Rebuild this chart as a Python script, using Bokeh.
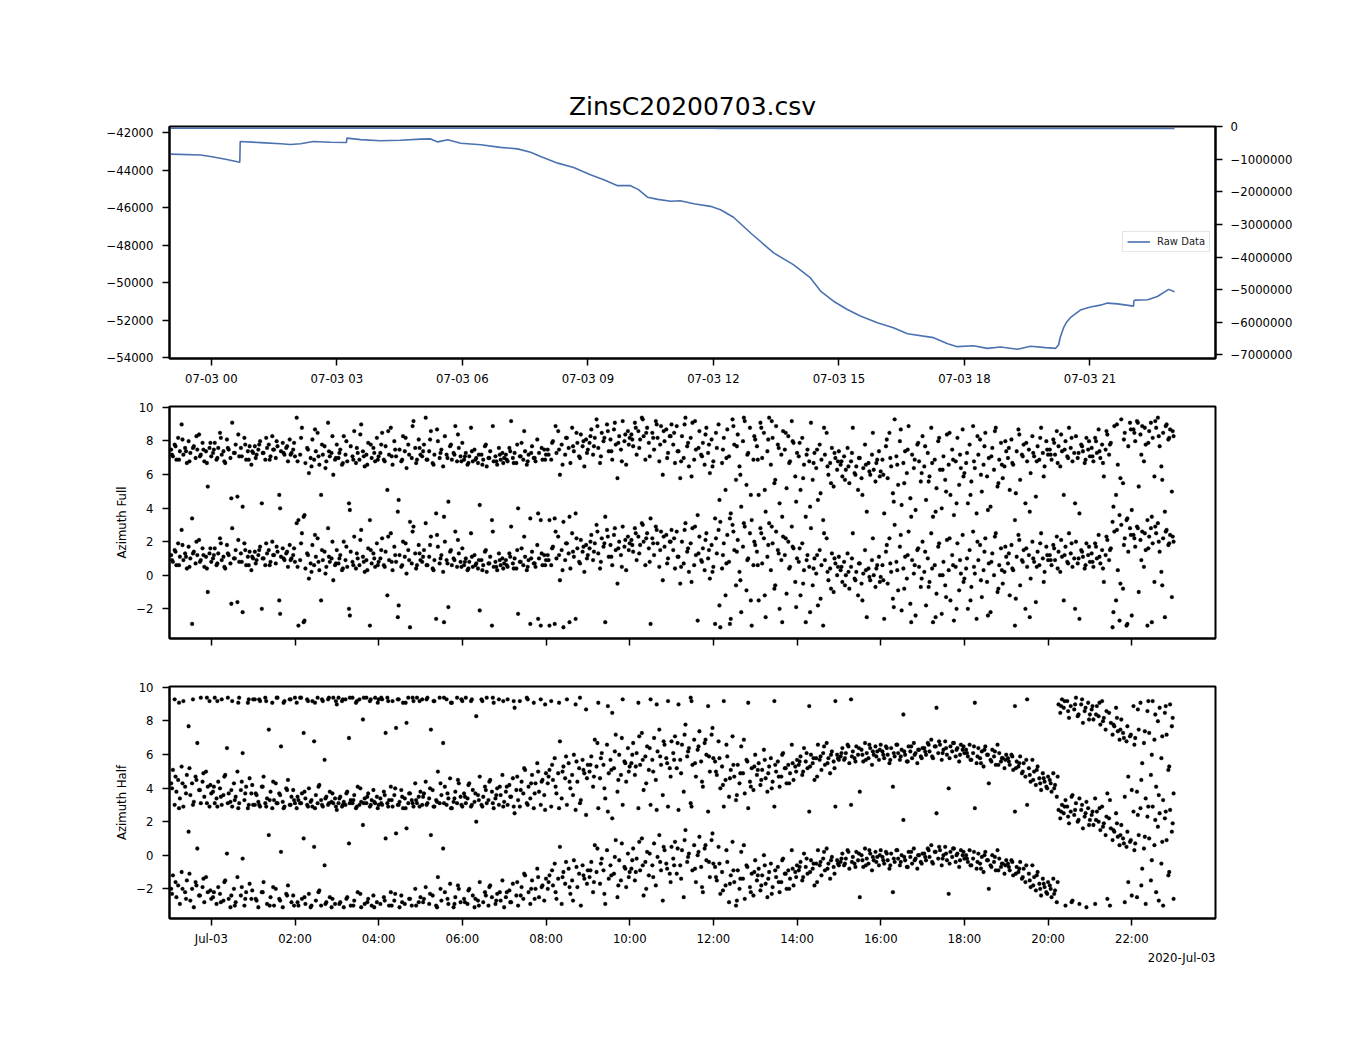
import numpy as np
import pandas as pd
from bokeh.plotting import figure
from bokeh.models import (Range1d, LinearAxis, FixedTicker, CustomJSTickFormatter,
                          Legend, LegendItem, Title, ColumnDataSource)
from bokeh.layouts import column
from bokeh.embed import file_html
from bokeh.resources import INLINE

# ---------------- data ----------------
TITLE = "ZinsC20200703.csv"
DATE_LABEL = "2020-Jul-03"

# raw data: hours relative to 2020-07-03 00:00
raw_hours = [-0.97, -0.26, -0.02, 0.34, 0.68, 0.69, 1.18, 1.66, 1.89, 2.13, 2.44, 2.85,
             3.23, 3.24, 3.57, 4.04, 4.52, 5.00, 5.24, 5.41, 5.65, 5.96, 6.44, 6.91,
             7.32, 7.63, 7.87, 8.28, 8.66, 9.06, 9.38, 9.71, 10.02, 10.21, 10.43, 10.67,
             10.98, 11.21, 11.53, 11.93, 12.17, 12.48, 12.89, 13.30, 13.44, 13.91, 14.32,
             14.56, 14.87, 15.20, 15.51, 15.92, 16.30, 16.64, 17.26, 17.60, 17.83, 18.21,
             18.55, 18.86, 19.27, 19.58, 19.94, 20.18, 20.25, 20.29, 20.37, 20.44, 20.53,
             20.77, 21.01, 21.25, 21.42, 21.66, 22.04, 22.05, 22.09, 22.38, 22.61, 22.88, 23.02]
raw_values = [-43150, -43200, -43280, -43420, -43580, -42480, -42540, -42600, -42640, -42600,
              -42480, -42520, -42530, -42300, -42380, -42440, -42410, -42350, -42340, -42500,
              -42390, -42570, -42650, -42790, -42870, -43050, -43275, -43630, -43860, -44250,
              -44510, -44830, -44830, -45040, -45450, -45560, -45660, -45630, -45790, -45930,
              -46110, -46510, -47350, -48140, -48410, -49030, -49740, -50440, -50980, -51420,
              -51770, -52130, -52390, -52710, -52920, -53240, -53400, -53350, -53490, -53420,
              -53540, -53380, -53450, -53490, -53300, -52900, -52390, -52100, -51860, -51450,
              -51290, -51190, -51080, -51120, -51240, -50960, -50920, -50900, -50730, -50350, -50480]

# azimuth samples (radians, -pi..pi)
# series A: one every 2.5 minutes from 2020-07-02 23:02:24
# series B: one every 5 minutes from 2020-07-02 23:03:39
SAMPLE_START_A = "2020-07-02 23:02:24"
SAMPLE_STEP_A = 150
SAMPLE_START_B = "2020-07-02 23:03:39"
SAMPLE_STEP_B = 300

azimuth_full_a = [
    1.2, 0.8, 1.5, 0.6, 1.9, 1.1, 2.7, 0.9, 1.3, 0.4, 1.7, 1.0, -2.9, 1.4, 0.7, 1.2, 2.1, 0.9, 1.6, 0.5, 1.1, -1.0, 1.3, 0.8,
    1.0, 1.6, 0.6, 1.3, 2.2, 0.9, 1.1, 0.4, 1.8, 1.2, 0.7, 2.8, 1.0, 1.5, -1.6, 0.8, 1.3, -2.2, 1.9, 0.6, 1.1, 1.4, 0.3, 1.0,
    1.4, 0.9, 1.2, 1.7, -2.0, 1.0, 0.6, 1.3, 1.5, 0.8, 2.0, 1.2, 0.7, 1.4, -1.5, 1.1, 1.6, 0.9, 1.3, 0.5, 1.8, 1.0, 1.2, 0.8,
    3.1, -3.0, 0.9, 2.5, -2.8, 0.4, 1.3, -0.2, 0.7, 1.8, 0.6, 1.1, 2.2, 0.3, -1.5, 0.9, 1.4, 0.5, 2.8, 0.8, 1.0, -0.3, 0.6, 1.5,
    0.7, 1.2, 0.3, 2.0, 0.9, 0.5, -2.0, 1.4, 0.8, 2.3, 0.4, 1.0, 0.6, 2.7, 1.1, 0.2, 0.9, 1.6, -3.0, 0.7, 1.3, 0.5, 1.9, 0.8,
    1.0, 2.2, 0.6, 1.4, -1.2, 0.9, 2.5, 0.3, 1.7, 0.8, -2.5, 1.2, 0.5, 2.0, 1.1, 0.1, 1.5, -3.1, 0.7, 2.9, 1.3, 0.6, 1.8, 0.9,
    0.8, 1.5, 3.1, 0.6, 1.1, 2.3, 0.4, 0.9, -2.6, 1.7, 0.7, 1.2, 0.2, 2.0, 0.9, -1.9, 1.4, 0.6, 1.0, 2.6, 0.5, 1.3, 0.8, 1.6,
    0.6, 1.0, 0.3, 0.8, 2.5, 0.5, 1.2, 0.7, 0.4, -2.1, 0.9, 0.6, 1.4, 0.2, 0.7, 1.1, -3.0, 0.5, 0.8, 0.3, 1.3, 0.6, 1.0, 0.7,
    0.9, 0.5, 1.3, 2.9, 0.7, 1.0, 0.4, -2.3, 0.8, 1.6, 0.6, 1.1, 0.3, 0.9, -2.9, 1.4, 0.7, 0.5, 1.8, 1.0, -3.0, 0.6, 1.2, 0.9,
    1.2, -3.0, 0.6, 1.7, -2.9, 1.0, 2.3, -0.3, 1.5, -3.1, 0.9, 1.9, 1.3, 0.4, 2.5, 1.1, -2.6, 1.6, 0.8, 2.1, 1.4, 0.2, 1.8, 1.2,
    1.6, 2.4, 0.9, 1.9, 3.0, 1.3, 0.4, 2.2, 1.7, -2.8, 2.7, 1.1, 1.8, 0.6, 2.4, 1.5, -0.5, 2.0, 1.2, 2.9, 1.7, 0.3, 2.3, 1.9,
    2.1, 1.4, 2.8, 0.9, 2.3, 1.8, 3.1, 2.0, 0.6, 2.5, 1.6, -2.9, 2.2, 1.2, 2.9, 1.9, 0.5, 2.6, -0.3, 1.7, 2.4, 1.0, 2.0, 2.7,
    1.5, 0.4, 2.6, 1.1, -0.5, 2.0, 0.7, 3.1, 1.4, 0.2, 1.9, 2.8, 0.6, 1.2, -2.7, 2.3, 0.9, 1.6, 0.3, 2.5, 1.0, -0.2, 1.8, 0.5,
    -2.9, 1.3, 2.7, -3.1, 0.4, 1.9, -1.2, 2.4, 0.8, -2.6, 3.0, 1.5, -0.6, 2.1, 0.2, -2.2, 1.7, 2.9, -0.9, 1.0, 2.5, -3.0, 0.6, 1.8,
    1.4, -1.5, 2.8, 0.7, 2.2, -2.5, 1.1, 3.1, 0.3, 1.9, -0.8, 2.6, 1.5, -2.0, 0.9, 2.3, 1.2, -1.1, 2.0, 0.5, 2.9, 1.6, -0.4, 1.0,
    0.8, -1.2, 1.9, 0.3, -2.8, 1.2, 0.5, 2.8, -0.6, 1.0, 0.1, -1.8, 1.5, 0.6, -3.0, 0.9, 2.2, -0.3, 0.4, 1.3, -1.0, 0.7, 0.0, 1.1,
    0.3, -0.4, 0.8, 0.0, 1.3, -0.8, 0.5, 2.5, -0.2, 0.2, -1.2, 0.7, -0.5, 0.1, 1.5, -2.5, 0.4, -0.3, 0.9, 0.0, -0.7, 0.6, 1.1, -0.1,
    0.6, -2.6, 1.4, -0.5, 2.2, 0.2, -1.4, 3.0, 0.8, -0.9, 1.7, -2.1, 0.4, 1.1, -0.2, 2.6, -1.7, 0.9, 0.1, -2.4, 1.5, 0.5, -0.7, 2.0,
    0.2, -1.8, 1.0, -0.4, 2.5, -2.8, 0.6, -1.1, 1.7, 0.0, -2.3, 0.8, -0.6, 2.1, 0.3, -1.5, 1.2, -2.7, 0.5, 1.9, -0.9, 0.1, 2.4, -0.2,
    0.4, -2.0, 1.5, -0.7, 2.6, 0.1, -2.6, 0.9, 1.8, -1.3, 0.3, 2.2, -0.4, 0.7, -2.2, 1.3, 0.0, 2.5, -1.0, 0.6, 1.6, -0.5, 0.2, 1.1,
    0.7, -1.2, 1.8, 0.3, -3.0, 1.1, 2.4, -0.6, 0.9, 1.5, -2.0, 0.5, 1.2, -0.2, 2.0, 0.8, -1.6, 1.4, 0.6, 2.5, 1.0, 0.2, 1.7, 0.9,
    1.2, 0.6, 1.8, 0.9, 2.3, 1.4, 0.2, 1.1, -1.5, 1.7, 0.8, 2.5, 1.3, 0.5, 1.0, 2.0, 0.7, -2.6, 1.5, 1.1, 0.4, 1.9, 1.2, 0.8,
    1.3, 0.5, 1.9, 1.0, 2.4, 0.7, 1.5, -0.4, 1.2, 2.1, 0.9, 1.6, -3.1, 2.6, -1.5, 0.3, -2.7, 3.0, -0.8, 2.2, -3.0, 1.4, 2.8, -2.4,
    2.4, 1.7, 2.9, -1.0, 2.1, 2.6, 0.5, 1.5, -3.0, 2.3, 2.8, 1.9, -0.4, 2.5, 3.1, 1.4, 0.2, 2.2, -2.5, 2.7, 1.8, 2.4, -1.3, 2.0,
]

azimuth_full_b = [
    0.9, 1.4, 0.6, 1.8, 1.1, 0.5, 1.3, 2.0, 0.8, 1.2, 0.4, 1.6,
    1.2, 0.7, 1.9, 0.5, 1.3, -1.7, 1.0, 2.1, 0.8, 1.5, 0.6, 1.1,
    0.7, 1.5, 1.0, 1.9, 0.6, 1.2, 1.7, -2.3, 1.0, 1.4, 0.9, 1.6,
    0.5, 1.9, -2.7, 1.2, 0.2, 2.4, 0.8, 1.5, 0.1, 1.1, 2.0, 0.7,
    1.0, 0.4, 1.7, -2.4, 0.6, 1.3, 2.1, 0.8, 0.3, 1.5, 1.0, 0.6,
    1.5, 0.5, 2.3, 0.8, 1.2, -1.8, 0.6, 1.9, 0.9, 2.6, 0.4, 1.3,
    1.1, 0.6, 1.8, 0.3, 2.4, 1.0, -2.8, 0.7, 1.5, 0.9, 2.1, 0.5,
    0.8, 0.4, 1.1, 0.6, 0.9, 0.3, 1.5, 0.7, 2.6, 0.5, 0.9, 0.4,
    0.6, 1.1, 0.4, 1.5, 0.8, 2.3, 0.5, 1.0, 0.7, -2.6, 1.3, 0.6,
    0.9, 1.6, 2.6, 1.2, 0.3, 1.9, -2.8, 1.4, 2.2, 0.7, 1.7, 1.0,
    2.0, 1.4, 2.6, 0.8, 1.9, 2.3, 1.1, 2.8, 1.6, 0.5, 2.1, 1.5,
    1.8, 2.5, 1.3, 3.0, 2.2, 0.8, 1.9, 2.7, 1.5, 2.3, 0.7, 2.0,
    2.2, 1.1, 0.5, 2.7, 1.6, -0.4, 2.9, 1.3, 0.8, 2.1, 1.5, 0.2,
    2.2, -1.8, 1.2, 0.7, -2.9, 2.6, 1.4, -0.3, 3.1, 0.9, -1.5, 2.0,
    0.6, 2.5, -1.2, 1.8, 2.9, -0.6, 1.3, -2.8, 2.2, 0.4, 1.7, -1.9,
    1.6, -0.5, 0.9, -2.2, 0.4, 1.2, -1.4, 2.5, 0.2, -0.8, 1.0, 0.5,
    0.5, -0.6, 0.2, 1.0, -0.3, 0.7, -1.5, 0.3, -0.1, 2.2, 0.4, -0.4,
    -0.3, 1.8, 0.7, -1.9, 0.3, 2.4, -0.8, 1.2, -2.8, 0.6, 1.6, -0.2,
    1.4, -0.7, 0.4, -2.5, 1.9, 0.0, -1.3, 2.2, 0.6, -2.0, 0.9, -0.4,
    1.0, -1.5, 0.5, 2.0, -0.3, 1.4, -2.4, 0.8, 2.3, -0.8, 0.3, 1.7,
    1.3, 0.4, -1.4, 2.1, 0.8, 1.6, -2.5, 1.0, 0.5, 1.9, -0.4, 1.2,
    0.9, 1.6, 0.4, 2.1, 1.2, 0.7, 1.9, -2.0, 1.0, 1.4, 0.6, 1.7,
    0.8, 1.7, 1.1, 0.4, 2.3, 1.5, -2.2, 2.7, -0.5, 1.8, -2.9, 2.4,
    2.2, 2.8, 0.9, 2.5, 1.6, -2.8, 2.9, 2.0, -0.6, 2.6, 1.9, 2.3,
]

azimuth_half_a = [
    -2.0, -1.2, 3.0, -2.5, -1.8, -2.9, -1.0, 2.9, -2.2, -1.5, 1.4, -2.7, -2.0, -3.1, -1.6, 0.4, -2.4, 3.1, -1.9, -2.8, -1.3, -2.2, 2.9, -2.6,
    -2.5, 3.1, -2.9, -1.9, -2.3, 3.0, -2.7, -1.5, 0.1, -2.6, -3.1, 2.9, -2.0, -2.8, -1.3, 3.1, -2.4, -0.2, -3.0, -2.2, 2.8, -1.7, -2.6, 3.0,
    3.0, -2.7, -3.1, 2.9, -2.2, -1.6, 3.1, -2.9, 1.2, -2.5, 2.8, -3.0, -2.0, 3.1, -2.6, 0.2, -3.1, 2.9, -2.3, -1.8, 3.0, -2.8, -2.4, 3.1,
    2.8, -3.0, 3.1, -2.6, 1.0, -2.9, 3.0, -2.3, -3.1, 2.9, 0.5, -2.7, 3.1, -2.1, -3.0, 2.9, -0.6, -2.8, 3.0, -2.5, -3.1, 3.1, -2.9, 2.7,
    3.1, -2.8, 2.9, -3.1, 3.0, -2.5, 0.7, -3.0, 3.1, -2.7, 2.8, -2.2, 3.0, -3.1, 1.8, -2.9, 3.1, -2.6, 2.9, -3.0, -2.4, 3.1, -2.8, 3.0,
    -2.9, 3.0, -2.5, 1.0, 3.1, -3.0, -2.2, 2.9, -2.7, 1.3, 3.0, -3.1, -2.4, 2.8, -2.9, 1.6, 3.1, -2.6, -3.0, 2.9, -2.0, 3.1, -2.8, -2.5,
    3.0, -2.6, -1.9, 3.1, -2.9, 1.2, -2.4, 2.9, -3.0, -1.3, 3.1, -2.7, 0.4, -2.2, 3.0, -2.9, -1.7, 2.8, -3.1, -2.5, 3.1, -2.0, -2.8, 2.9,
    -2.6, 3.1, -2.9, -2.0, 2.9, -2.4, -3.1, 2.0, -2.7, -1.6, 3.0, -2.8, -2.2, 3.1, -3.0, -1.8, -2.5, 2.8, -2.9, -2.3, 3.0, -2.7, -1.5, -3.1,
    -2.5, 3.0, -2.1, -2.8, -1.7, 2.5, -2.4, -3.0, 2.9, -1.9, -2.6, -1.2, 3.1, -2.2, -2.9, -1.5, 2.8, -2.0, -0.8, -2.5, 3.0, -1.8, -2.7, -1.4,
    -2.0, -1.2, 2.9, -1.8, -0.5, -2.6, -1.4, 0.5, -2.9, -1.0, -1.7, 3.0, -0.8, -2.3, -1.5, -0.3, 2.7, -1.9, -1.1, -3.0, -0.6, -1.4, 2.4, -0.9,
    -1.3, -0.4, -2.2, 0.6, -1.0, 2.8, -1.7, -0.2, -0.9, -2.9, 0.3, -1.4, -0.6, 2.2, -1.1, 0.9, -2.5, -0.3, -1.5, 3.0, -0.7, -1.9, 0.1, -1.0,
    -0.8, 0.4, -1.5, -0.2, 2.8, -0.9, 1.0, -2.4, -0.4, 0.2, -1.2, 3.0, -0.6, 0.7, -1.8, -0.1, 1.2, -0.9, -2.7, 0.3, -0.5, 2.9, -1.1, 0.5,
    -0.2, 0.8, -1.1, 2.7, -0.6, 0.3, -2.5, 1.5, -0.4, 0.1, 3.1, -0.9, 0.6, -1.6, 0.0, 1.1, -0.7, -2.2, 0.4, -0.3, 2.6, -1.3, 0.9, -0.5,
    -0.7, -1.5, 0.5, -2.3, -1.0, 2.9, -1.8, -0.4, -2.8, -1.2, 0.8, -1.6, -3.0, -0.9, -2.0, 0.2, -1.4, -2.6, -0.6, 2.8, -1.9, -1.1, -2.4, -0.3,
    -1.5, -0.8, -2.1, -1.2, 0.0, -1.7, -2.5, -1.0, -0.5, -1.9, 2.9, -1.3, -0.7, -2.2, -1.6, -0.2, -1.1, -2.0, -0.9, -1.4, 0.3, -1.8, -1.0, -0.6,
    -0.9, -0.4, -1.5, 0.1, -0.7, -1.1, 2.6, -0.3, -0.8, -1.8, -0.5, 0.3, -0.6, -1.2, -0.2, -0.9, 0.4, -0.5, -1.4, -0.1, -0.7, 2.9, -0.3, -0.6,
    -0.4, 0.1, -0.6, -0.2, 0.3, -0.8, 3.0, -0.1, -0.5, 0.2, -0.3, -2.5, 0.0, -0.7, 0.4, -0.2, -0.5, 0.1, -0.9, -0.3, 0.2, -0.1, -0.6, 0.3,
    -0.1, -0.5, 0.2, -0.3, -0.8, 0.1, -2.2, -0.4, 0.3, -0.2, -0.6, 0.0, 2.1, -0.3, -0.7, 0.2, -0.1, -0.5, 0.4, -0.2, -0.8, 0.0, -0.4, 0.1,
    0.1, -0.3, 0.4, -0.1, 0.6, -0.5, 0.2, 2.5, -0.2, 0.3, -0.6, 0.0, 0.5, -0.3, -2.3, 0.2, -0.1, 0.4, -0.4, 0.1, -0.7, 0.3, 0.0, -0.2,
    0.0, -0.4, 0.3, -0.6, -0.2, 2.8, -0.8, 0.1, -0.5, -0.1, -1.0, 0.2, -0.3, -2.0, -0.6, 0.0, -0.4, -0.9, 0.3, -0.2, -0.7, -0.5, -1.1, -0.3,
    -0.5, -0.9, -0.3, -1.2, 2.6, -0.7, -1.0, -0.4, -1.4, -0.8, -1.6, 3.0, -1.1, -1.9, -0.6, -1.3, -2.1, -1.0, -1.7, -2.4, -1.4, -1.9, -2.2, -1.6,
    -1.8, -2.5, -1.4, -2.1, -2.8, 2.7, 2.2, 3.0, 2.5, -3.0, 2.9, 1.9, 2.6, -2.7, 2.4, 3.1, 2.0, -2.9, 2.7, 1.6, 2.3, -3.1, 2.8, 2.1,
    2.4, 1.8, -2.9, 2.6, 2.0, 1.5, 2.9, 1.9, 1.2, -2.6, 2.2, 1.6, 0.9, 1.4, 2.5, 1.1, 0.6, 1.8, 1.0, -2.8, 0.5, -1.6, 0.8, -2.4,
    2.6, 0.7, -2.5, 1.2, 2.8, -0.8, 0.4, -2.9, 2.3, 1.0, -1.5, 2.9, 0.6, -2.2, 1.7, 2.5, -0.5, -3.0, 2.2, 0.9, -1.2, 2.7, 1.4, -2.6,
]

azimuth_half_b = [
    -2.3, -1.6, 2.8, -2.0, -2.6, -1.1, 3.0, -1.8, -2.4, -1.4, 3.1, -2.1,
    -2.2, 2.9, -2.8, -1.6, 3.1, -2.4, -3.0, 2.8, -1.9, -2.6, 3.0, -2.1,
    -2.6, 3.0, -2.2, 2.9, -3.0, -1.9, 3.1, -2.7, 2.8, -2.4, 3.0, -3.0,
    -2.8, 3.1, -2.5, 2.9, -3.0, 2.8, -2.2, 3.0, -2.9, 3.1, -2.6, 2.9,
    -2.9, 3.0, -2.6, 3.1, -3.0, 2.9, -2.3, 3.1, -2.8, 3.0, -3.1, 2.8,
    3.1, -2.7, 2.9, -3.0, -2.3, 3.0, -2.8, 2.8, -2.6, 3.1, -3.0, 2.9,
    -2.8, 3.0, -2.3, 2.9, -3.1, -2.0, 3.1, -2.6, 2.8, -2.9, -1.8, 3.0,
    -2.8, -2.1, 3.0, -2.6, -3.0, 2.9, -2.4, -1.9, 3.1, -2.7, -2.2, 2.9,
    -2.2, -2.8, 2.9, -1.6, -2.4, -1.1, 3.0, -2.0, -2.6, -1.3, -1.9, 2.7,
    -1.6, -0.9, -2.2, 2.8, -1.3, -0.4, -1.9, -2.7, -0.7, 3.1, -1.2, -1.7,
    -0.9, -1.6, 0.4, -0.5, -2.3, 2.6, -1.2, -0.1, -1.8, 0.7, -0.8, -1.3,
    -0.3, -1.0, 0.8, -0.6, -2.0, 0.1, -1.3, 2.7, -0.4, 0.5, -0.8, -1.6,
    -0.6, 0.4, -1.4, 0.9, -0.1, 2.9, -0.8, 0.2, -1.9, 0.6, -0.4, 1.3,
    -1.3, -0.5, -2.1, 0.3, -1.7, -0.9, -2.7, -1.4, 0.6, -0.7, -2.2, -1.0,
    -1.2, -1.8, -0.6, -1.4, -2.3, -0.9, -1.6, -0.3, -1.1, -2.0, -0.8, -1.3,
    -0.7, -1.3, -0.2, -1.0, -0.5, -1.6, -0.4, 0.2, -0.8, -0.3, -1.1, -0.5,
    -0.2, -0.5, 0.2, -0.4, -0.7, 0.1, -0.3, -0.6, 0.3, -0.1, -0.4, 0.0,
    -0.3, 0.1, -0.6, -0.2, 0.3, -0.4, -0.1, -0.7, 0.2, -0.3, 0.0, -0.5,
    -0.1, 0.3, -0.4, 0.2, 0.5, -0.2, 0.1, -0.5, 0.4, 0.0, -0.3, 0.2,
    -0.2, -0.6, 0.2, -0.4, -0.8, 0.0, -0.3, -0.7, -0.1, -0.9, -0.5, -0.6,
    -0.7, -0.4, -1.1, -0.8, -1.3, -0.6, -1.5, -1.8, -1.2, -2.0, -1.7, -2.3,
    -2.0, -2.3, -1.6, 2.6, 2.9, 2.3, -2.8, 2.7, 2.1, 3.0, 2.5, 1.8,
    2.6, 2.1, 2.8, 1.7, 2.3, -3.0, 1.5, 1.9, 1.2, 0.7, 1.4, 0.9,
    0.3, 2.4, -1.8, 1.1, 2.9, -0.3, 2.1, -2.7, 0.8, 2.6, -1.0, 1.9,
]

left_ticks = [-54000, -52000, -50000, -48000, -46000, -44000, -42000]
right_ticks = [0, -1000000, -2000000, -3000000, -4000000, -5000000, -6000000, -7000000]
azimuth_ticks = [-2, 0, 2, 4, 6, 8, 10]
top_x_ticks = [0, 3, 6, 9, 12, 15, 18, 21]
bottom_x_ticks = [0, 2, 4, 6, 8, 10, 12, 14, 16, 18, 20, 22]

# ---------------- helpers ----------------
FONT = "DejaVu Sans"
LINE_COLOR = "#4c72b0"
W = 1334
FRAME_LEFT = 169
FRAME_W = 1046
MIDNIGHT = pd.Timestamp("2020-07-03 00:00:00")


def sample_hours(start, step_s, n):
    t = pd.Timestamp(start) + pd.to_timedelta(np.arange(n) * step_s, unit="s")
    return ((t - MIDNIGHT) / pd.Timedelta(hours=1)).to_numpy()


minus_fmt = CustomJSTickFormatter(code="""
const v = Math.round(tick);
return (v < 0 ? '\u2212' : '') + Math.abs(v).toString();
""")
top_x_fmt = CustomJSTickFormatter(code="""
const h = Math.round(tick);
return '07-03 ' + (h < 10 ? '0' : '') + h;
""")
bottom_x_fmt = CustomJSTickFormatter(code="""
const h = Math.round(tick);
if (h == 0) { return 'Jul-03'; }
return (h < 10 ? '0' : '') + h + ':00';
""")
blank_fmt = CustomJSTickFormatter(code="return '';")


def make_fig(height, top, bottom, y0, y1):
    p = figure(width=W, height=height, x_range=Range1d(-1, 24), y_range=Range1d(y0, y1),
               output_backend="svg", toolbar_location=None, tools="",
               min_border_left=FRAME_LEFT, min_border_right=W - FRAME_LEFT - FRAME_W,
               min_border_top=top, min_border_bottom=bottom)
    p.xgrid.visible = False
    p.ygrid.visible = False
    p.outline_line_color = "black"
    p.outline_line_width = 2
    p.outline_line_alpha = 1
    p.background_fill_color = "white"
    p.border_fill_color = "white"
    return p


def style_axis(ax, standoff=6, label_standoff=4):
    ax.axis_line_color = "black"
    ax.axis_line_width = 2
    ax.major_tick_line_color = "black"
    ax.major_tick_line_width = 1.5
    ax.major_tick_out = 7
    ax.major_tick_in = 0
    ax.minor_tick_line_color = None
    ax.major_label_text_font = FONT
    ax.major_label_text_font_size = "11.7px"
    ax.major_label_text_color = "black"
    ax.major_label_standoff = standoff
    ax.axis_label_text_font = FONT
    ax.axis_label_text_font_size = "11.7px"
    ax.axis_label_text_font_style = "normal"
    ax.axis_label_text_color = "black"
    ax.axis_label_standoff = label_standoff


# ---------------- top panel ----------------
p1 = make_fig(394, 126, 36, -54030, -41680)
p1.title.text = TITLE
p1.title.align = "center"
p1.title.text_font = FONT
p1.title.text_font_size = "25px"
p1.title.text_font_style = "normal"
p1.title.text_color = "black"
p1.title.standoff = 12

p1.extra_y_ranges = {"right": Range1d(-7115000, 10000)}
r_main = p1.line(raw_hours, raw_values, line_color=LINE_COLOR, line_width=1.6)
p1.line(raw_hours, raw_values, y_range_name="right", line_color=LINE_COLOR, line_width=1.6)

p1.yaxis.ticker = FixedTicker(ticks=left_ticks)
p1.yaxis.formatter = minus_fmt
p1.xaxis.ticker = FixedTicker(ticks=top_x_ticks)
p1.xaxis.formatter = top_x_fmt
ax_r = LinearAxis(y_range_name="right", ticker=FixedTicker(ticks=right_ticks), formatter=minus_fmt)
p1.add_layout(ax_r, "right")
for ax in p1.xaxis:
    style_axis(ax)
for ax in p1.yaxis:
    style_axis(ax, standoff=9)
style_axis(ax_r, standoff=8)

legend = Legend(items=[LegendItem(label="Raw Data", renderers=[r_main])],
                location=(953, 106), orientation="vertical")
legend.label_text_font = FONT
legend.label_text_font_size = "10px"
legend.label_text_color = "#222222"
legend.glyph_width = 23
legend.glyph_height = 11
legend.label_height = 11
legend.label_standoff = 7
legend.padding = 4
legend.spacing = 0
legend.margin = 0
legend.border_line_color = "#cccccc"
legend.border_line_width = 1
legend.background_fill_color = "white"
legend.background_fill_alpha = 0.8
p1.add_layout(legend)

# ---------------- azimuth panels ----------------
TWO_PI = 2 * np.pi


def azimuth_panel(values_a, values_b, label, height, top, bottom, fmt):
    p = make_fig(height, top, bottom, -3.77, 10.05)
    va = np.asarray(values_a, dtype=float)
    vb = np.asarray(values_b, dtype=float)
    x = np.concatenate([sample_hours(SAMPLE_START_A, SAMPLE_STEP_A, len(va)),
                        sample_hours(SAMPLE_START_B, SAMPLE_STEP_B, len(vb))])
    y = np.concatenate([va, vb])
    src = ColumnDataSource(dict(x=x, y=y, y2=y + TWO_PI))
    p.scatter("x", "y", source=src, size=3.8, fill_color="black", line_color="black", line_width=0.3)
    p.scatter("x", "y2", source=src, size=3.8, fill_color="black", line_color="black", line_width=0.3)
    p.yaxis.ticker = FixedTicker(ticks=azimuth_ticks)
    p.yaxis.formatter = minus_fmt
    p.yaxis.axis_label = label
    p.xaxis.ticker = FixedTicker(ticks=bottom_x_ticks)
    p.xaxis.formatter = fmt
    for ax in p.xaxis:
        style_axis(ax)
    for ax in p.yaxis:
        style_axis(ax, standoff=9, label_standoff=4)
    return p


p2 = azimuth_panel(azimuth_full_a, azimuth_full_b, "Azimuth Full", 280, 12, 36, blank_fmt)
p3 = azimuth_panel(azimuth_half_a, azimuth_half_b, "Azimuth Half", 304, 12, 60, bottom_x_fmt)

date_title = Title(text=DATE_LABEL, align="right", text_font=FONT, text_font_size="11.7px",
                   text_font_style="normal", text_color="black", standoff=0)
p3.add_layout(date_title, "below")

layout = column(p1, p2, p3, spacing=0)
open("out.html", "w").write(file_html(layout, INLINE))
